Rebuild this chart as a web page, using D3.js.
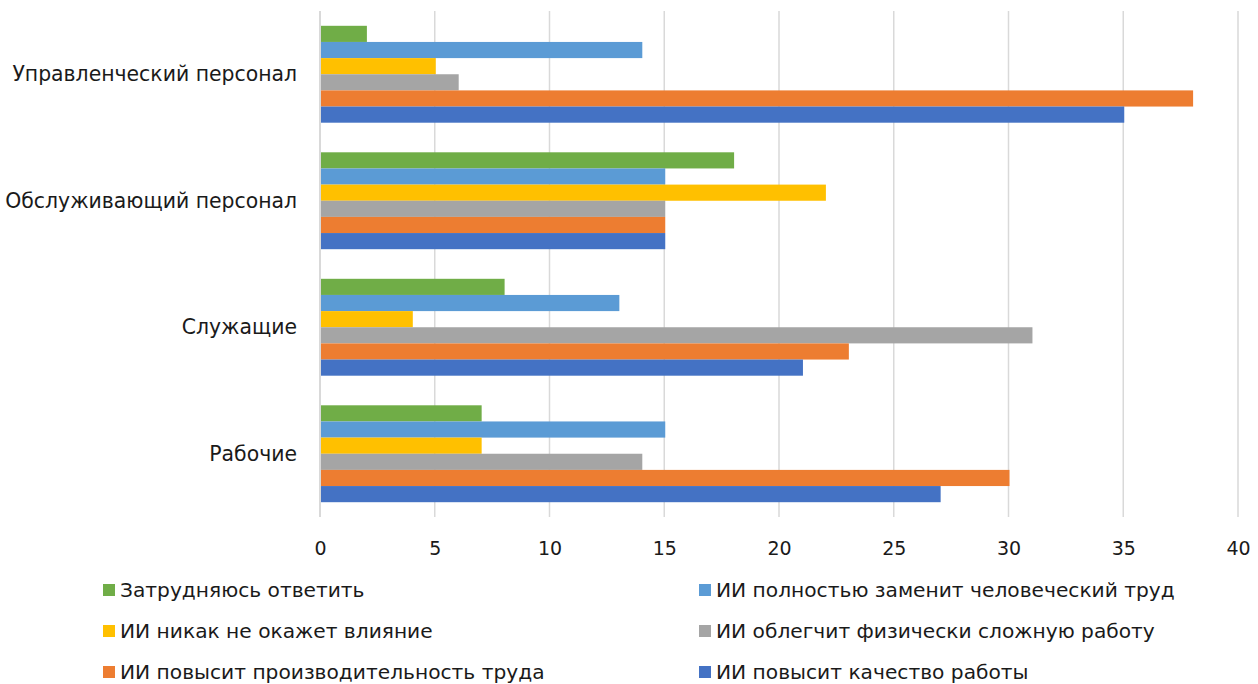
<!DOCTYPE html>
<html>
<head>
<meta charset="utf-8">
<script src="https://cdn.jsdelivr.net/npm/d3@7"></script>
<style>
  html, body { margin: 0; padding: 0; background: #fff; }
  svg { display: block; font-family: "DejaVu Sans", Verdana, sans-serif; }
</style>
</head>
<body>
<svg id="chart" width="1258" height="684"></svg>
<script>
// Staff groups, drawn top to bottom
const categories = ["Управленческий персонал", "Обслуживающий персонал", "Служащие", "Рабочие"];

// Answer options, in the order the bars are stacked inside each group (top to bottom)
const seriesNames = [
  "Затрудняюсь ответить",
  "ИИ полностью заменит человеческий труд",
  "ИИ никак не окажет влияние",
  "ИИ облегчит физически сложную работу",
  "ИИ повысит производительность труда",
  "ИИ повысит качество работы"
];
const seriesColors = ["#70ad47", "#5b9bd5", "#ffc000", "#a5a5a5", "#ed7d31", "#4472c4"];

// Values per series, one per category
const hardToSay      = [2, 18, 8, 7];
const fullReplace    = [14, 15, 13, 15];
const noInfluence    = [5, 22, 4, 7];
const easePhysical   = [6, 15, 31, 14];
const productivity   = [38, 15, 23, 30];
const quality        = [35, 15, 21, 27];
const seriesValues = [hardToSay, fullReplace, noInfluence, easePhysical, productivity, quality];

const xTicks = [0, 5, 10, 15, 20, 25, 30, 35, 40];

const svg = d3.select("#chart");
const plot = { left: 320, right: 1238, top: 11, bottom: 517 };

const x = d3.scaleLinear().domain([0, 40]).range([plot.left, plot.right]);
const y0 = d3.scaleBand().domain(categories).range([plot.top, plot.bottom])
  .paddingInner(0.234).paddingOuter(0.117);
const y1 = d3.scaleBand().domain(seriesNames).range([0, y0.bandwidth()]);

// Vertical gridlines
svg.append("g")
  .selectAll("line")
  .data(xTicks)
  .join("line")
  .attr("x1", d => x(d)).attr("x2", d => x(d))
  .attr("y1", plot.top).attr("y2", plot.bottom)
  .attr("stroke", "#d9d9d9")
  .attr("stroke-width", d => d === 0 ? 2 : 1.5);

// Bars
const groups = svg.append("g")
  .selectAll("g")
  .data(categories)
  .join("g")
  .attr("transform", d => `translate(0,${y0(d)})`);

groups.selectAll("rect")
  .data((c, ci) => seriesNames.map((s, si) => ({ s, si, v: seriesValues[si][ci] })))
  .join("rect")
  .attr("x", x(0) + 1)
  .attr("y", d => y1(d.s))
  .attr("width", d => x(d.v) - x(0))
  .attr("height", y1.bandwidth())
  .attr("fill", d => seriesColors[d.si]);

// Category labels
svg.append("g")
  .selectAll("text")
  .data(categories)
  .join("text")
  .attr("x", 297)
  .attr("y", d => y0(d) + y0.bandwidth() / 2)
  .attr("dy", "0.35em")
  .attr("text-anchor", "end")
  .attr("font-size", 20.4)
  .attr("fill", "#1a1a1a")
  .text(d => d);

// X axis tick labels
const xAxis = d3.axisBottom(x).tickValues(xTicks).tickSize(0).tickPadding(0);
const ax = svg.append("g").attr("transform", `translate(0,${plot.bottom})`).call(xAxis);
ax.select(".domain").remove();
ax.selectAll("text")
  .attr("y", 31)
  .attr("dy", "0.35em")
  .attr("font-size", 19)
  .attr("font-family", "DejaVu Sans, Verdana, sans-serif")
  .attr("fill", "#1a1a1a");

// Legend: two columns, three rows
const legendCols = [103, 699];
const legendRows = [590, 631, 672];
const legend = svg.append("g")
  .selectAll("g")
  .data(seriesNames)
  .join("g")
  .attr("transform", (d, i) => `translate(${legendCols[i % 2]},${legendRows[Math.floor(i / 2)]})`);
legend.append("rect")
  .attr("x", 0).attr("y", -6)
  .attr("width", 12).attr("height", 12)
  .attr("fill", (d, i) => seriesColors[i]);
legend.append("text")
  .attr("x", 17)
  .attr("y", 0)
  .attr("dy", "0.35em")
  .attr("font-size", 20.2)
  .attr("fill", "#1a1a1a")
  .text(d => d);
</script>
</body>
</html>
